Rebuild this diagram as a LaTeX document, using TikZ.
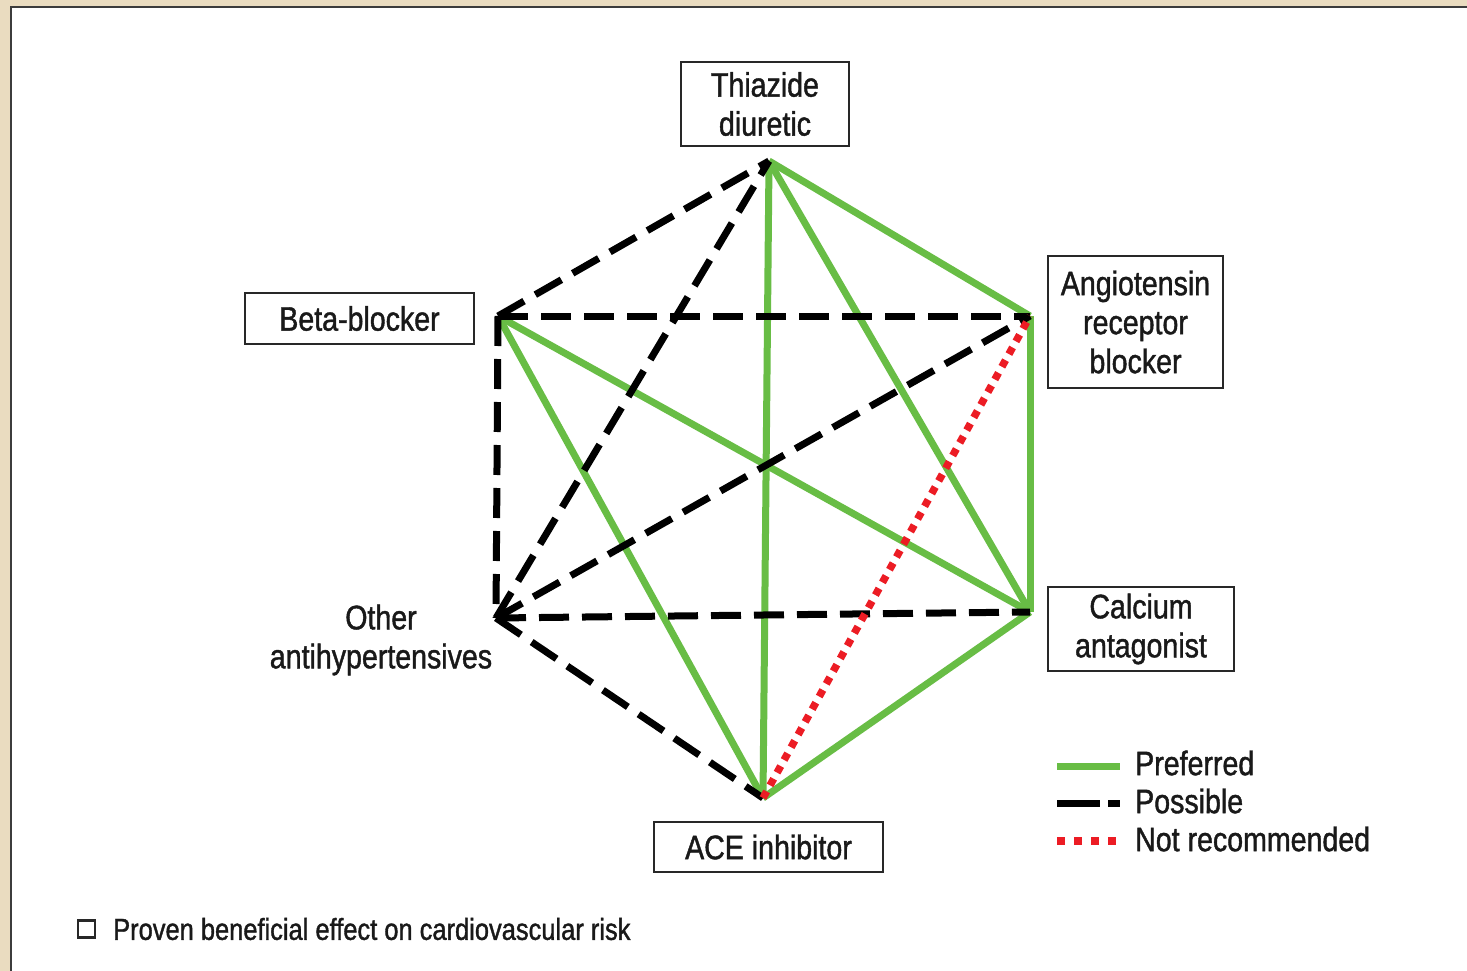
\documentclass[tikz,border=0pt]{standalone}
\usepackage{fontspec}
\setmainfont{Liberation Sans}[FakeStretch=0.84,FakeBold=1.2]
\definecolor{beige}{RGB}{234,220,192}
\definecolor{framegray}{RGB}{60,60,60}
\definecolor{prefgreen}{RGB}{104,189,69}
\definecolor{notred}{RGB}{236,28,36}
\definecolor{boxgray}{RGB}{40,40,40}
\tikzset{
  box/.style={draw=boxgray, line width=2pt, fill=white, align=center, inner sep=0pt,
              font=\fontsize{34}{39}\selectfont, text=black!90},
  lbl/.style={align=center, inner sep=0pt, font=\fontsize{34}{39}\selectfont, text=black!90},
  preferred/.style={draw=prefgreen, line width=7pt},
  possible/.style={draw=black, line width=7pt, dash pattern=on 30pt off 13pt},
  notrec/.style={draw=notred, line width=7.5pt, dash pattern=on 7.5pt off 7pt},
}
\begin{document}
\begin{tikzpicture}[x=1pt,y=-1pt]
\useasboundingbox (0,0) rectangle (1467,971);
\fill[beige] (0,0) rectangle (1467,971);
\fill[white] (11,7) rectangle (1467,971);
\draw[framegray, line width=2.5pt] (11,971) -- (11,7) -- (1467,7);

% vertices
\coordinate (T) at (769,161);
\coordinate (A) at (1030,316);
\coordinate (C) at (1030,612);
\coordinate (E) at (763,798);
\coordinate (O) at (496,618);
\coordinate (B) at (498,316);

% preferred
\draw[preferred] (T) -- (A);
\draw[preferred] (T) -- (C);
\draw[preferred] (T) -- (E);
\draw[preferred] (A) -- (C);
\draw[preferred] (C) -- (E);
\draw[preferred] (B) -- (E);
\draw[preferred] (B) -- (C);
% possible
\draw[possible] (B) -- (T);
\draw[possible] (O) -- (T);
\draw[possible] (B) -- (A);
\draw[possible] (B) -- (O);
\draw[possible] (O) -- (A);
\draw[possible] (O) -- (C);
\draw[possible] (O) -- (E);
% not recommended
\draw[notrec] (E) -- (A);

% boxes
\node[box, minimum width=168pt, minimum height=84pt] (thz) at (765,104) {Thiazide\\diuretic};
\node[box, minimum width=229pt, minimum height=51pt] (beta) at (359.5,318.5) {Beta-blocker};
\node[box, minimum width=175pt, minimum height=132pt] (arb) at (1135.5,322) {Angiotensin\\receptor\\blocker};
\node[box, minimum width=186pt, minimum height=84pt] (cal) at (1141,629) {Calcium\\antagonist};
\node[box, minimum width=229pt, minimum height=50pt] (ace) at (768.5,847) {ACE inhibitor};
\node[lbl] (oth) at (381,640) {Other\\antihypertensives};

% legend
\coordinate (g1) at (1057,766); \coordinate (g2) at (1120,766);
\coordinate (k1) at (1057,803); \coordinate (k2) at (1120,803);
\coordinate (r1) at (1057,841); \coordinate (r2) at (1120,841);
\draw[preferred] (g1) -- (g2);
\draw[draw=black, line width=7pt, dash pattern=on 43pt off 8pt] (k1) -- (k2);
\draw[notrec, dash pattern=on 8pt off 9pt] (r1) -- (r2);
\node[lbl, anchor=west] (lp) at (1135,763) {Preferred};
\node[lbl, anchor=west] (lq) at (1135,801) {Possible};
\node[lbl, anchor=west] (lr) at (1135,839) {Not recommended};

% note
\node[draw=boxgray, line width=2.5pt, minimum size=17pt, inner sep=0pt] (sq) at (86.5,929) {};
\node[lbl, anchor=west, font=\fontsize{30.3}{35}\selectfont] (note) at (113,929) {Proven beneficial effect on cardiovascular risk};
\end{tikzpicture}
\end{document}
